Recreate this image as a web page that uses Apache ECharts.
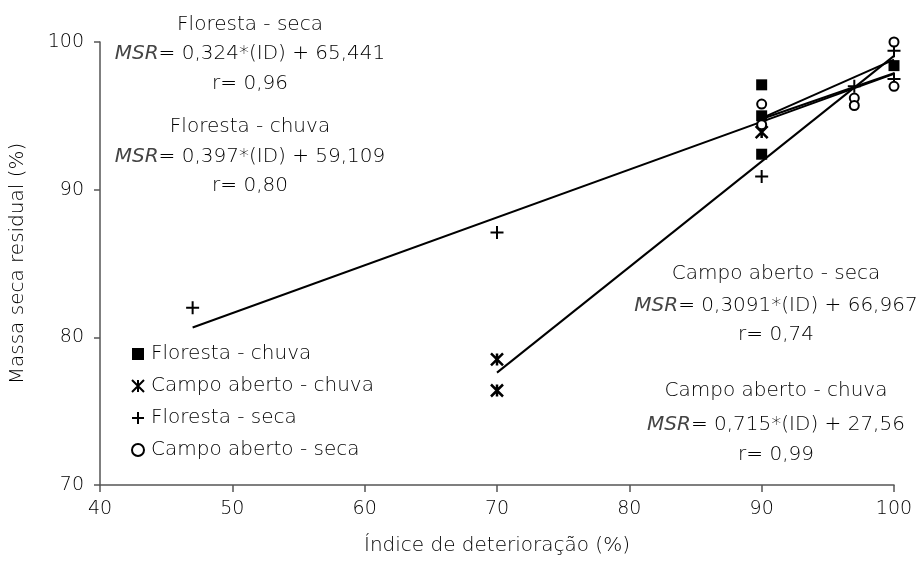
<!DOCTYPE html>
<html>
<head>
<meta charset="utf-8">
<script src="https://cdn.jsdelivr.net/npm/echarts@6/dist/echarts.min.js"></script>
<style>
html,body{margin:0;padding:0;background:#fff;}
#c{width:919px;height:578px;}
</style>
</head>
<body>
<div id="c"></div>
<script>
// ---- data ----
var xTicks = [40, 50, 60, 70, 80, 90, 100];
var yTicks = [70, 80, 90, 100];

var seriesNames = ['Floresta - chuva', 'Campo aberto - chuva', 'Floresta - seca', 'Campo aberto - seca'];

var florestaChuva = [[90, 97.1], [90, 95.0], [90, 92.4], [100, 98.4]];
var campoChuva = [[70, 78.5], [70, 76.4], [90, 93.9]];
var florestaSeca = [[47, 82.0], [70, 87.1], [90, 90.9], [97, 97.0], [100, 100.1], [100, 99.4], [100, 97.5]];
var campoSeca = [[90, 95.8], [90, 94.4], [97, 96.2], [97, 95.7], [100, 100.0], [100, 97.0]];

// regression line end points
var fitFlorestaSeca = [[47, 80.67], [100, 97.84]];
var fitFlorestaChuva = [[90, 94.84], [100, 98.81]];
var fitCampoSeca = [[90, 94.79], [100, 97.88]];
var fitCampoChuva = [[70, 77.61], [100, 99.06]];

var annLeft = ['Floresta - seca', '{i|MSR}= 0,324*(ID) + 65,441', 'r= 0,96',
               'Floresta - chuva', '{i|MSR}= 0,397*(ID) + 59,109', 'r= 0,80'];
var annRight = ['Campo aberto - seca', '{i|MSR}= 0,3091*(ID) + 66,967', 'r= 0,74',
                'Campo aberto - chuva', '{i|MSR}= 0,715*(ID) + 27,56', 'r= 0,99'];

// ---- styling ----
var FONT = 'DejaVu Sans';
var TXT = '#000000';
var AX = '#555555';
var W = 300;
var xPath = 'path://M0,0L10,10M10,0L0,10M5,0L5,10';
var plusPath = 'path://M5,0L5,10M0,5L10,5';

var annLeftY = [25, 54, 84, 127, 157, 186];
var annRightY = [274, 306, 335, 391, 425, 455];

var graphics = [];
function addAnn(list, xs, ys) {
  for (var i = 0; i < list.length; i++) {
    graphics.push({
      type: 'text', x: xs, y: ys[i],
      style: {
        text: list[i], x: 0, y: 0, align: 'center', verticalAlign: 'middle',
        fill: TXT, fontFamily: FONT, fontSize: 20, fontWeight: W,
        rich: { i: { fontStyle: 'italic', fontFamily: FONT, fontSize: 20, fontWeight: W, fill: '#444' } }
      }
    });
  }
}
addAnn(annLeft, 250, annLeftY);
addAnn(annRight, 776, annRightY);

function fitSeries(d) {
  return {
    type: 'line', data: d, symbol: 'none', silent: true, z: 1,
    lineStyle: { color: '#000', width: 2 }, animation: false
  };
}

var chart = echarts.init(document.getElementById('c'), null, { renderer: 'canvas' });
chart.setOption({
  animation: false,
  backgroundColor: '#fff',
  textStyle: { fontFamily: FONT, color: TXT, fontWeight: W },
  grid: { left: 100, right: 25, top: 42, bottom: 93, containLabel: false },
  xAxis: {
    type: 'value', min: xTicks[0], max: xTicks[xTicks.length - 1], interval: 10,
    name: 'Índice de deterioração (%)', nameLocation: 'middle', nameGap: 51,
    nameTextStyle: { fontSize: 20, color: TXT, fontFamily: FONT, fontWeight: W },
    axisLine: { show: true, lineStyle: { color: AX, width: 1.5 } },
    axisTick: { show: true, length: 7, lineStyle: { color: AX, width: 1.5 } },
    axisLabel: { fontSize: 19, color: TXT, margin: 15, fontFamily: FONT, fontWeight: W },
    splitLine: { show: false }
  },
  yAxis: {
    type: 'value', min: yTicks[0], max: yTicks[yTicks.length - 1], interval: 10,
    name: 'Massa seca residual (%)', nameLocation: 'middle', nameGap: 72,
    nameTextStyle: { fontSize: 20, color: TXT, fontFamily: FONT, fontWeight: W },
    axisLine: { show: true, lineStyle: { color: AX, width: 1.5 } },
    axisTick: { show: true, length: 6, lineStyle: { color: AX, width: 1.5 } },
    axisLabel: { fontSize: 19, color: TXT, margin: 16, fontFamily: FONT, fontWeight: W },
    splitLine: { show: false }
  },
  legend: {
    orient: 'vertical', left: 131, top: 344, padding: 0,
    itemWidth: 12, itemHeight: 12, itemGap: 12,
    textStyle: { fontSize: 20, color: TXT, fontFamily: FONT, fontWeight: W, padding: [0, 0, 0, 2] },
    data: seriesNames
  },
  graphic: graphics,
  series: [
    fitSeries(fitFlorestaSeca), fitSeries(fitFlorestaChuva),
    fitSeries(fitCampoSeca), fitSeries(fitCampoChuva),
    {
      name: seriesNames[0], type: 'scatter', data: florestaChuva, z: 3,
      symbol: 'rect', symbolSize: 11,
      itemStyle: { color: '#000', opacity: 1 }
    },
    {
      name: seriesNames[1], type: 'scatter', data: campoChuva, z: 3,
      symbol: xPath, symbolSize: 12,
      itemStyle: { color: 'rgba(0,0,0,0)', borderColor: '#000', borderWidth: 2.5, opacity: 1 }
    },
    {
      name: seriesNames[2], type: 'scatter', data: florestaSeca, z: 3,
      symbol: plusPath, symbolSize: 13,
      itemStyle: { color: 'rgba(0,0,0,0)', borderColor: '#000', borderWidth: 2, opacity: 1 }
    },
    {
      name: seriesNames[3], type: 'scatter', data: campoSeca, z: 4,
      symbol: 'circle', symbolSize: 9,
      itemStyle: { color: '#fff', borderColor: '#000', borderWidth: 2, opacity: 1 }
    }
  ]
});
</script>
</body>
</html>
